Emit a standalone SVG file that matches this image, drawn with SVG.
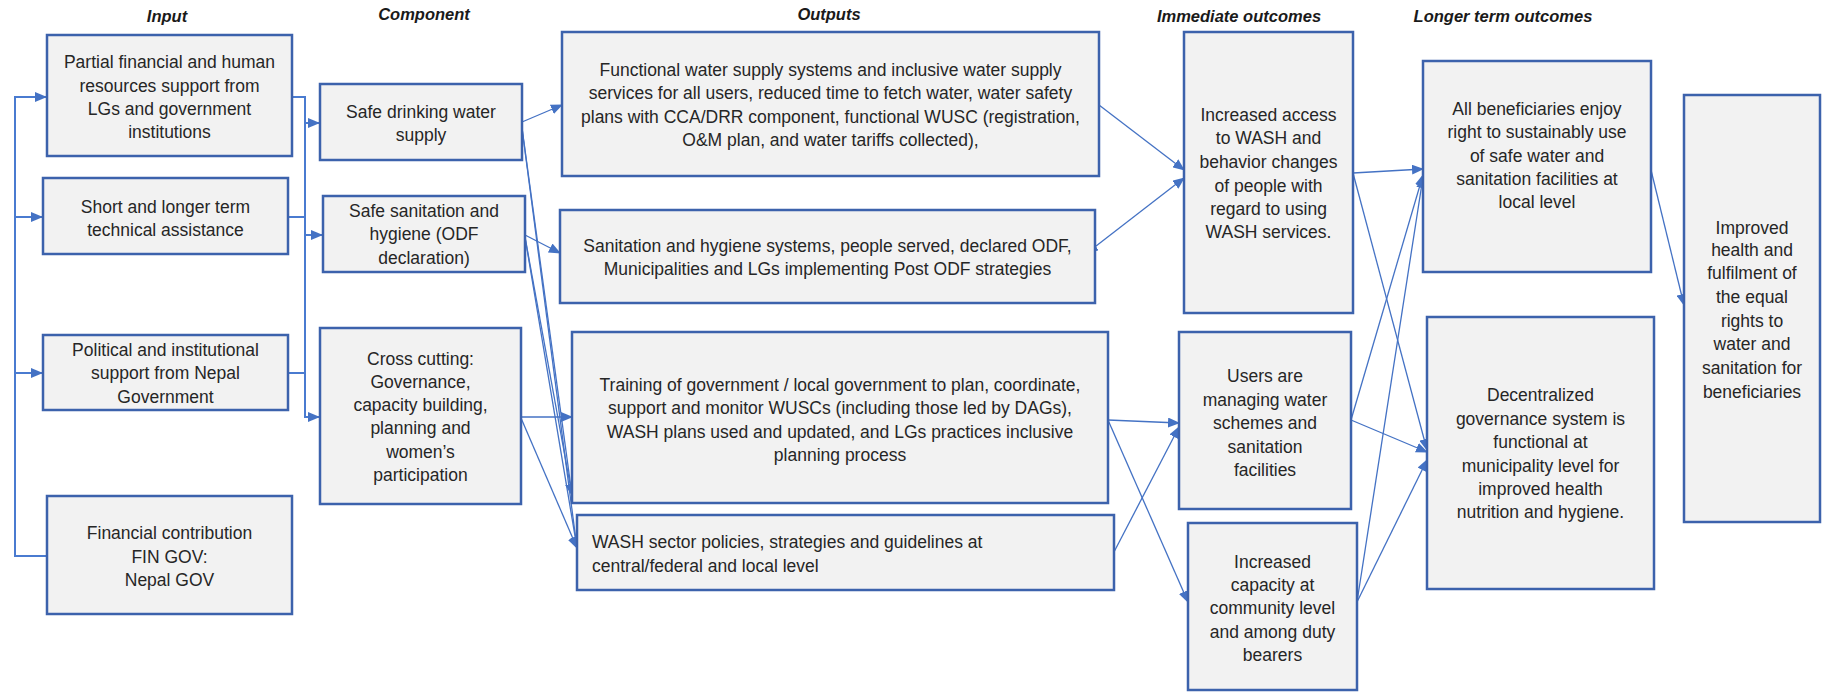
<svg xmlns="http://www.w3.org/2000/svg" width="1827" height="693" viewBox="0 0 1827 693">
<defs>
<marker id="ah" markerWidth="12" markerHeight="10" refX="11" refY="5" orient="auto" markerUnits="userSpaceOnUse">
<path d="M0,0 L12,5 L0,10 Z" fill="#4472C4"/>
</marker>
<marker id="ahs" markerWidth="12" markerHeight="10" refX="1" refY="5" orient="auto" markerUnits="userSpaceOnUse">
<path d="M12,0 L0,5 L12,10 Z" fill="#4472C4"/>
</marker>
</defs>
<style>
.box{fill:#F2F2F2;stroke:#3C62AC;stroke-width:2.5}
.t{font-family:"Liberation Sans",Arial,sans-serif;font-size:17.5px;fill:#262626;text-anchor:middle}
.tl{text-anchor:start}
.h{font-family:"Liberation Sans",Arial,sans-serif;font-size:16.5px;font-weight:bold;font-style:italic;fill:#1a1a1a;text-anchor:middle}
.c{fill:none;stroke:#4472C4;stroke-width:1.3}
.b{fill:none;stroke:#4A7BD0;stroke-width:2}
</style>
<rect width="1827" height="693" fill="#FFFFFF"/>

<g id="titles">
<text class="h" x="167" y="22">Input</text>
<text class="h" x="424" y="20">Component</text>
<text class="h" x="829" y="20">Outputs</text>
<text class="h" x="1239" y="22">Immediate outcomes</text>
<text class="h" x="1503" y="22">Longer term outcomes</text>
</g>

<g id="connectors">
<path class="b" d="M47,556 H15 V97 H46" marker-end="url(#ah)"/>
<path class="b" d="M15,217 H42" marker-end="url(#ah)"/>
<path class="b" d="M15,373 H42" marker-end="url(#ah)"/>
<path class="b" d="M292,97 H305 V417 H319" marker-end="url(#ah)"/>
<path class="b" d="M288,217 H305"/>
<path class="b" d="M288,373 H305"/>
<path class="b" d="M305,123 H319" marker-end="url(#ah)"/>
<path class="b" d="M305,235 H322" marker-end="url(#ah)"/>

<line class="c" x1="522" y1="122" x2="562" y2="105" marker-end="url(#ah)"/>
<line class="c" x1="522" y1="128" x2="572" y2="495" marker-end="url(#ah)"/>
<line class="c" x1="522" y1="128" x2="577" y2="548" marker-end="url(#ah)"/>
<line class="c" x1="525" y1="235" x2="560" y2="253" marker-end="url(#ah)"/>
<line class="c" x1="525" y1="237" x2="572" y2="495" marker-end="url(#ah)"/>
<line class="c" x1="525" y1="237" x2="577" y2="548" marker-end="url(#ah)"/>
<line class="c" x1="521" y1="417" x2="572" y2="417" marker-end="url(#ah)"/>
<line class="c" x1="521" y1="418" x2="577" y2="548" marker-end="url(#ah)"/>

<line class="c" x1="1099" y1="105" x2="1184" y2="170" marker-end="url(#ah)"/>
<line class="c" x1="1087" y1="253" x2="1184" y2="178" marker-start="url(#ahs)" marker-end="url(#ah)"/>
<line class="c" x1="1108" y1="420" x2="1179" y2="423" marker-end="url(#ah)"/>
<line class="c" x1="1114" y1="552" x2="1179" y2="427" marker-end="url(#ah)"/>
<line class="c" x1="1108" y1="420" x2="1188" y2="602" marker-end="url(#ah)"/>

<line class="c" x1="1353" y1="173" x2="1423" y2="169" marker-end="url(#ah)"/>
<line class="c" x1="1353" y1="173" x2="1427" y2="450" marker-end="url(#ah)"/>
<line class="c" x1="1351" y1="420" x2="1423" y2="175" marker-end="url(#ah)"/>
<line class="c" x1="1351" y1="420" x2="1427" y2="452" marker-end="url(#ah)"/>
<line class="c" x1="1357" y1="602" x2="1423" y2="177" marker-end="url(#ah)"/>
<line class="c" x1="1357" y1="602" x2="1427" y2="460" marker-end="url(#ah)"/>
<line class="c" x1="1651" y1="170" x2="1684" y2="305" marker-end="url(#ah)"/>
</g>

<g id="in1"><rect class="box" x="47" y="35" width="245" height="121"/>
<text class="t" x="169.5" y="68">Partial financial and human</text>
<text class="t" x="169.5" y="92">resources support from</text>
<text class="t" x="169.5" y="115">LGs and government</text>
<text class="t" x="169.5" y="138">institutions</text></g>

<g id="in2"><rect class="box" x="43" y="178" width="245" height="76"/>
<text class="t" x="165.5" y="213">Short and longer term</text>
<text class="t" x="165.5" y="236">technical assistance</text></g>

<g id="in3"><rect class="box" x="43" y="335" width="245" height="75"/>
<text class="t" x="165.5" y="356">Political and institutional</text>
<text class="t" x="165.5" y="379">support from Nepal</text>
<text class="t" x="165.5" y="403">Government</text></g>

<g id="in4"><rect class="box" x="47" y="496" width="245" height="118"/>
<text class="t" x="169.5" y="539">Financial contribution</text>
<text class="t" x="169.5" y="563">FIN GOV:</text>
<text class="t" x="169.5" y="586">Nepal GOV</text></g>

<g id="comp1"><rect class="box" x="320" y="84" width="202" height="76"/>
<text class="t" x="421" y="118">Safe drinking water</text>
<text class="t" x="421" y="141">supply</text></g>

<g id="comp2"><rect class="box" x="323" y="196" width="202" height="76"/>
<text class="t" x="424" y="217">Safe sanitation and</text>
<text class="t" x="424" y="240">hygiene (ODF</text>
<text class="t" x="424" y="264">declaration)</text></g>

<g id="comp3"><rect class="box" x="320" y="328" width="201" height="176"/>
<text class="t" x="420.5" y="365">Cross cutting:</text>
<text class="t" x="420.5" y="388">Governance,</text>
<text class="t" x="420.5" y="411">capacity building,</text>
<text class="t" x="420.5" y="434">planning and</text>
<text class="t" x="420.5" y="458">women’s</text>
<text class="t" x="420.5" y="481">participation</text></g>

<g id="out1"><rect class="box" x="562" y="32" width="537" height="144"/>
<text class="t" x="830.5" y="76">Functional water supply systems and inclusive water supply</text>
<text class="t" x="830.5" y="99">services for all users, reduced time to fetch water, water safety</text>
<text class="t" x="830.5" y="123">plans with CCA/DRR component, functional WUSC (registration,</text>
<text class="t" x="830.5" y="146">O&amp;M plan, and water tariffs collected),</text></g>

<g id="out2"><rect class="box" x="560" y="210" width="535" height="93"/>
<text class="t" x="827.5" y="252">Sanitation and hygiene systems, people served, declared ODF,</text>
<text class="t" x="827.5" y="275">Municipalities and LGs implementing Post ODF strategies</text></g>

<g id="out3"><rect class="box" x="572" y="332" width="536" height="171"/>
<text class="t" x="840" y="391">Training of government / local government to plan, coordinate,</text>
<text class="t" x="840" y="414">support and monitor WUSCs (including those led by DAGs),</text>
<text class="t" x="840" y="438">WASH plans used and updated, and LGs practices inclusive</text>
<text class="t" x="840" y="461">planning process</text></g>

<g id="out4"><rect class="box" x="577" y="515" width="537" height="75"/>
<text class="t tl" x="592" y="548">WASH sector policies, strategies and guidelines at</text>
<text class="t tl" x="592" y="572">central/federal and local level</text></g>

<g id="imm1"><rect class="box" x="1184" y="32" width="169" height="281"/>
<text class="t" x="1268.5" y="121">Increased access</text>
<text class="t" x="1268.5" y="144">to WASH and</text>
<text class="t" x="1268.5" y="168">behavior changes</text>
<text class="t" x="1268.5" y="192">of people with</text>
<text class="t" x="1268.5" y="215">regard to using</text>
<text class="t" x="1268.5" y="238">WASH services.</text></g>

<g id="imm2"><rect class="box" x="1179" y="332" width="172" height="177"/>
<text class="t" x="1265" y="382">Users are</text>
<text class="t" x="1265" y="406">managing water</text>
<text class="t" x="1265" y="429">schemes and</text>
<text class="t" x="1265" y="453">sanitation</text>
<text class="t" x="1265" y="476">facilities</text></g>

<g id="imm3"><rect class="box" x="1188" y="523" width="169" height="167"/>
<text class="t" x="1272.5" y="568">Increased</text>
<text class="t" x="1272.5" y="591">capacity at</text>
<text class="t" x="1272.5" y="614">community level</text>
<text class="t" x="1272.5" y="638">and among duty</text>
<text class="t" x="1272.5" y="661">bearers</text></g>

<g id="long1"><rect class="box" x="1423" y="61" width="228" height="211"/>
<text class="t" x="1537" y="115">All beneficiaries enjoy</text>
<text class="t" x="1537" y="138">right to sustainably use</text>
<text class="t" x="1537" y="162">of safe water and</text>
<text class="t" x="1537" y="185">sanitation facilities at</text>
<text class="t" x="1537" y="208">local level</text></g>

<g id="long2"><rect class="box" x="1427" y="317" width="227" height="272"/>
<text class="t" x="1540.5" y="401">Decentralized</text>
<text class="t" x="1540.5" y="425">governance system is</text>
<text class="t" x="1540.5" y="448">functional at</text>
<text class="t" x="1540.5" y="472">municipality level for</text>
<text class="t" x="1540.5" y="495">improved health</text>
<text class="t" x="1540.5" y="518">nutrition and hygiene.</text></g>

<g id="final"><rect class="box" x="1684" y="95" width="136" height="427"/>
<text class="t" x="1752" y="234">Improved</text>
<text class="t" x="1752" y="256">health and</text>
<text class="t" x="1752" y="279">fulfilment of</text>
<text class="t" x="1752" y="303">the equal</text>
<text class="t" x="1752" y="327">rights to</text>
<text class="t" x="1752" y="350">water and</text>
<text class="t" x="1752" y="374">sanitation for</text>
<text class="t" x="1752" y="398">beneficiaries</text></g>
</svg>
